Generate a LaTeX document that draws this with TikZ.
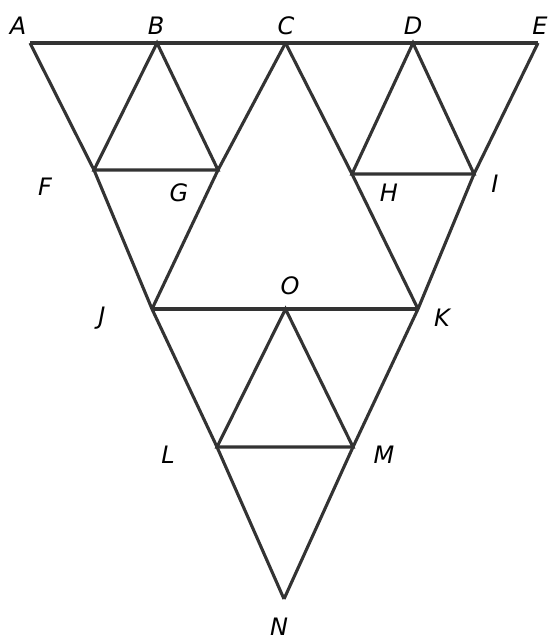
\documentclass[tikz,border=0pt]{standalone}
\usepackage{fontspec}
\setmainfont{DejaVu Sans}
\begin{document}
\begin{tikzpicture}[x=1pt,y=-1pt,
  edge/.style={draw=black!80,line width=3.1pt,line join=miter,line cap=butt},
  lbl/.style={font=\fontsize{24}{24}\selectfont\itshape,text=black,inner sep=0pt}]
\useasboundingbox (0,0) rectangle (551,643);
% points
\coordinate (A) at (30,43);
\coordinate (B) at (157,43);
\coordinate (C) at (285.5,43);
\coordinate (D) at (413,43);
\coordinate (E) at (538,43);
\coordinate (F) at (94,170);
\coordinate (G) at (218,170);
\coordinate (H) at (352,174);
\coordinate (I) at (474,174);
\coordinate (J) at (152,309);
\coordinate (O) at (285.5,309);
\coordinate (K) at (418,309);
\coordinate (L) at (217,447);
\coordinate (M) at (353,447);
\coordinate (N) at (284,599);
% outer triangle
\draw[edge] (A) -- (E);
\draw[edge] (A) -- (F) -- (J) -- (L) -- (N);
\draw[edge] (E) -- (I) -- (K) -- (M) -- (N);
% middle triangle
\draw[edge] (C) -- (G) -- (J);
\draw[edge] (C) -- (H) -- (K);
\draw[edge] (J) -- (K);
% small triangles
\draw[edge] (B) -- (F) -- (G) -- cycle;
\draw[edge] (D) -- (H) -- (I) -- cycle;
\draw[edge] (O) -- (L) -- (M) -- cycle;
% labels
\node[lbl] (tA) at (18,26) {A};
\node[lbl] (tB) at (156,26) {B};
\node[lbl] (tC) at (286,26) {C};
\node[lbl] (tD) at (413,26) {D};
\node[lbl] (tE) at (540,26) {E};
\node[lbl] (tF) at (45,187) {F};
\node[lbl] (tG) at (179,193) {G};
\node[lbl] (tH) at (389,193) {H};
\node[lbl] (tI) at (495,184) {I};
\node[lbl] (tJ) at (102,318) {J};
\node[lbl] (tO) at (290,286) {O};
\node[lbl] (tK) at (442,318) {K};
\node[lbl] (tL) at (168,455) {L};
\node[lbl] (tM) at (384,455) {M};
\node[lbl] (tN) at (279,627) {N};
\end{tikzpicture}
\end{document}
